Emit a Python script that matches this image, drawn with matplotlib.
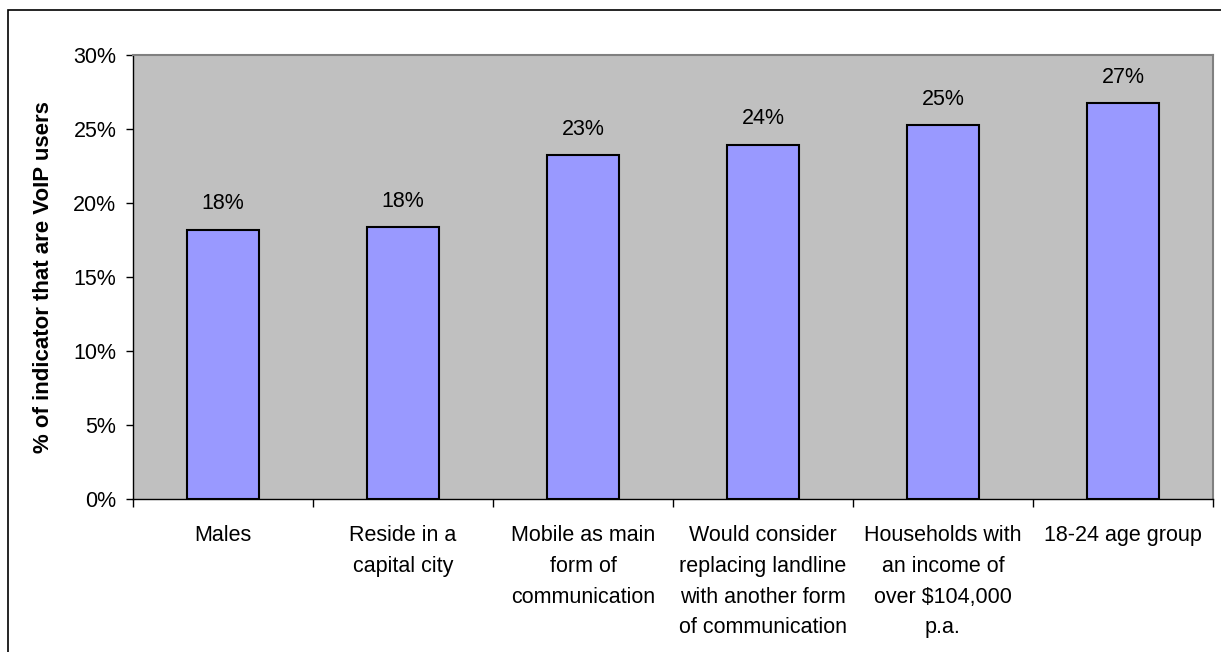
import matplotlib.pyplot as plt
from matplotlib.patches import Rectangle
from matplotlib.ticker import FuncFormatter, MultipleLocator

plt.rcParams['font.family'] = ['Liberation Sans', 'DejaVu Sans']

categories = ["Males", "Reside in a\ncapital city", "Mobile as main\nform of\ncommunication",
              "Would consider\nreplacing landline\nwith another form\nof communication",
              "Households with\nan income of\nover $104,000\np.a.", "18-24 age group"]
values = [18.2, 18.35, 23.25, 23.95, 25.25, 26.75]
value_labels = ["18%", "18%", "23%", "24%", "25%", "27%"]

fig = plt.figure(figsize=(12.21, 6.52), dpi=100)
ax = fig.add_axes([133/1221, 1 - 499/652, 1080/1221, 444/652])
ax.set_facecolor('#C0C0C0')

x = range(len(categories))
bars = ax.bar(x, values, width=0.4, color='#9999FF', edgecolor='black', linewidth=1.5, zorder=3)
for b, lab in zip(bars, value_labels):
    ax.annotate(lab, (b.get_x() + b.get_width()/2, b.get_height()), xytext=(0, 11),
                textcoords='offset points', ha='center', va='bottom', fontsize=15.5)

ax.set_xlim(-0.5, len(categories) - 0.5)
ax.set_ylim(0, 30)
ax.yaxis.set_major_locator(MultipleLocator(5))
ax.yaxis.set_major_formatter(FuncFormatter(lambda v, p: f"{v:.0f}%"))
ax.set_xticks([i + 0.5 for i in range(-1, len(categories))])
ax.set_xticklabels([])
ax.set_xticks(list(x), minor=True)
ax.set_xticklabels(categories, minor=True, fontsize=15.5, linespacing=1.6, va='top')
ax.tick_params(axis='x', which='minor', length=0, pad=19)
ax.tick_params(axis='x', which='major', length=6, direction='out', width=1)
ax.tick_params(axis='y', length=5, width=1, labelsize=15.5, pad=7)

for s in ['top', 'right']:
    ax.spines[s].set_color('#808080')
    ax.spines[s].set_linewidth(1.5)
for s in ['left', 'bottom']:
    ax.spines[s].set_color('black')
    ax.spines[s].set_linewidth(1)

ax.set_ylabel("% of indicator that are VoIP users", fontsize=16, fontweight='bold', labelpad=14)

fig.patches.append(Rectangle((8/1221, -0.1), 1.2, 1 - 10/652 + 0.1, transform=fig.transFigure,
                             fill=False, edgecolor='black', linewidth=1.2))

fig.savefig("out.png", dpi=100)
